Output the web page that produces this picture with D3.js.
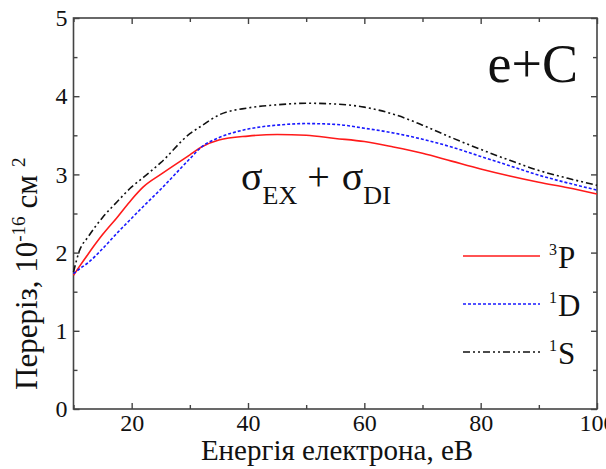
<!DOCTYPE html>
<html>
<head>
<meta charset="utf-8">
<script src="https://cdn.jsdelivr.net/npm/d3@7"></script>
<style>
  body { margin: 0; background: #fff; }
</style>
</head>
<body>
<svg id="chart" width="606" height="469"></svg>
<script>
// енергія, eB
var energy = [10, 11, 12.5, 15, 17.5, 20, 22, 25, 30, 32, 35, 40, 45, 50, 55, 60, 65, 70, 75, 80, 85, 90, 95, 100];
// перерізи (10^-16 см^2)
var sigma3P = [1.71, 1.82, 1.98, 2.23, 2.45, 2.68, 2.84, 3.00, 3.25, 3.35, 3.44, 3.49, 3.51, 3.50, 3.46, 3.42, 3.35, 3.27, 3.17, 3.07, 2.98, 2.90, 2.83, 2.75];
var sigma1D = [1.73, 1.79, 1.87, 2.05, 2.25, 2.44, 2.59, 2.81, 3.20, 3.35, 3.47, 3.58, 3.63, 3.65, 3.64, 3.59, 3.53, 3.45, 3.35, 3.23, 3.11, 2.99, 2.89, 2.80];
var sigma1S = [1.75, 2.02, 2.20, 2.45, 2.65, 2.84, 2.96, 3.15, 3.52, 3.62, 3.76, 3.85, 3.89, 3.91, 3.90, 3.86, 3.77, 3.63, 3.47, 3.32, 3.18, 3.05, 2.95, 2.86];

var xTicks = [20, 40, 60, 80, 100];
var xMinor = [10, 30, 50, 70, 90];
var yTicks = [0, 1, 2, 3, 4, 5];
var yMinor = [0.5, 1.5, 2.5, 3.5, 4.5];

var series = [
  { name: "P", sup: "3", vals: sigma3P, color: "#ff1a1a", dash: null },
  { name: "D", sup: "1", vals: sigma1D, color: "#1a1aff", dash: "3,2" },
  { name: "S", sup: "1", vals: sigma1S, color: "#111", dash: "7,3,2,3,2,3" }
];

var svg = d3.select("#chart");
var margin = {top: 18, right: 9, bottom: 60, left: 73.5},
    width = 606 - margin.left - margin.right,
    height = 469 - margin.top - margin.bottom;

var g = svg.append("g").attr("transform", "translate(" + margin.left + "," + margin.top + ")");

var x = d3.scaleLinear().domain([10, 100]).range([0, width]);
var y = d3.scaleLinear().domain([0, 5]).range([height, 0]);

var axisColor = "#444";

// рамка
g.append("rect")
  .attr("width", width).attr("height", height)
  .attr("fill", "none").attr("stroke", axisColor).attr("stroke-width", 1.6);

function ticks(axis, scale, vals, len, labels, pad) {
  var a = axis(scale).tickValues(vals).tickSize(-len).tickPadding(pad || 7);
  a.tickFormat(labels ? d3.format("d") : "");
  return a;
}

// нижня і верхня осі
g.append("g").attr("transform", "translate(0," + height + ")").call(ticks(d3.axisBottom, x, xTicks, 6, true, 5));
g.append("g").attr("transform", "translate(0," + height + ")").call(ticks(d3.axisBottom, x, xMinor, 4, false));
g.append("g").call(ticks(d3.axisTop, x, xTicks, 6, false));
g.append("g").call(ticks(d3.axisTop, x, xMinor, 4, false));

// ліва і права осі
g.append("g").call(ticks(d3.axisLeft, y, yTicks, 6, true, 6));
g.append("g").call(ticks(d3.axisLeft, y, yMinor, 4, false));
g.append("g").attr("transform", "translate(" + width + ",0)").call(ticks(d3.axisRight, y, yTicks, 6, false));
g.append("g").attr("transform", "translate(" + width + ",0)").call(ticks(d3.axisRight, y, yMinor, 4, false));

g.selectAll(".domain").remove();
g.selectAll(".tick line").attr("stroke", axisColor).attr("stroke-width", 1.4);
g.selectAll(".tick text").attr("font-size", 24).attr("fill", "#111");

// криві
var line = d3.line()
  .x(function(d) { return x(d[0]); })
  .y(function(d) { return y(d[1]); })
  .curve(d3.curveMonotoneX);

series.forEach(function(s) {
  g.append("path")
    .datum(energy.map(function(e, i) { return [e, s.vals[i]]; }))
    .attr("d", line)
    .attr("fill", "none")
    .attr("stroke", s.color)
    .attr("stroke-width", 1.6)
    .attr("stroke-dasharray", s.dash);
});

// легенда
series.forEach(function(s, i) {
  var ly = 256 + i * 48;
  svg.append("line")
    .attr("x1", 463).attr("x2", 540).attr("y1", ly).attr("y2", ly)
    .attr("stroke", s.color).attr("stroke-width", 1.6)
    .attr("stroke-dasharray", s.dash);
  var t = svg.append("text").attr("x", 549).attr("y", ly + 12).attr("font-size", 31).attr("fill", "#111");
  t.append("tspan").attr("font-size", 16).attr("dy", -13).text(s.sup);
  t.append("tspan").attr("dy", 13).attr("dx", 1).text(s.name);
});

// написи
svg.append("text").attr("x", 578).attr("y", 82).attr("text-anchor", "end")
  .attr("font-size", 54).attr("fill", "#111").text("e+C");

var sig = svg.append("text").attr("x", 241).attr("y", 190).attr("font-size", 40).attr("fill", "#111");
sig.append("tspan").text("σ");
sig.append("tspan").attr("font-size", 26).attr("dy", 14).text("EX");
sig.append("tspan").attr("dy", -14).attr("dx", 10).text("+");
sig.append("tspan").attr("dx", 12).text("σ");
sig.append("tspan").attr("font-size", 26).attr("dy", 14).text("DI");

svg.append("text")
  .attr("x", 337).attr("y", 460)
  .attr("text-anchor", "middle").attr("font-size", 29).attr("fill", "#111")
  .text("Енергія електрона, еВ");

// підпис осі y
var yl = svg.append("text")
  .attr("transform", "translate(37,390) rotate(-90)")
  .attr("font-size", 31).attr("fill", "#111");
yl.append("tspan").text("Переріз, 10");
yl.append("tspan").attr("font-size", 19).attr("dy", -12).text("-16");
yl.append("tspan").attr("dy", 12).attr("dx", 8).text("см");
yl.append("tspan").attr("font-size", 19).attr("dy", -12).attr("dx", 8).text("2");

// шрифт на кожному тексті
svg.selectAll("text").style("font-family", "'Liberation Serif', serif");
g.selectAll("g").attr("font-family", null);
</script>
</body>
</html>
